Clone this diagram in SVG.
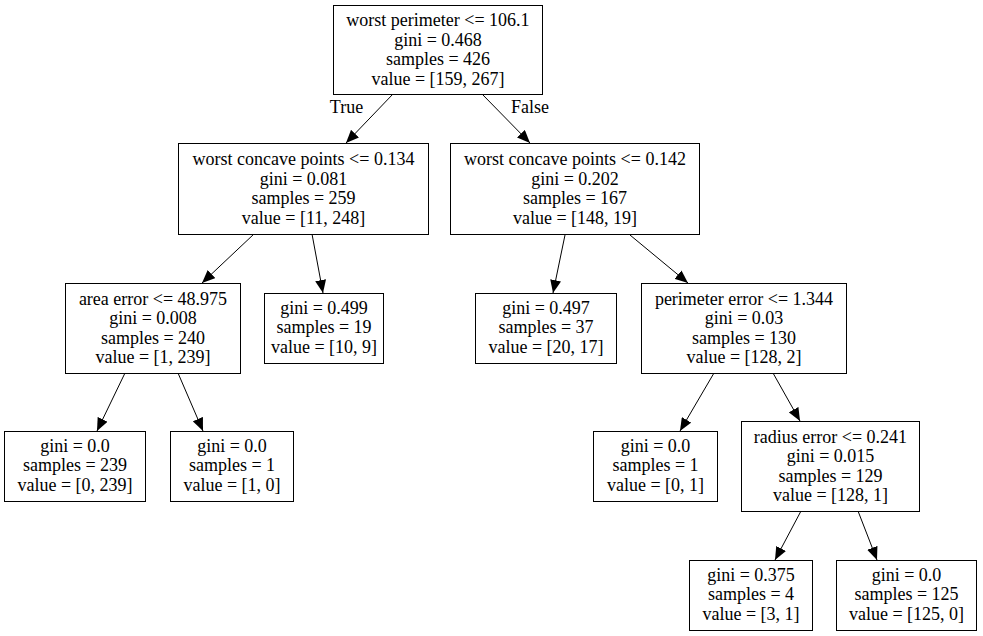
<svg xmlns="http://www.w3.org/2000/svg" width="983" height="636" viewBox="0 0 983 636">
<style>
rect.n{fill:#fff;stroke:#000;stroke-width:1}
text{font-family:"Liberation Serif","Times New Roman",serif;font-size:18px;fill:#000;text-anchor:middle}
.e{stroke:#000;stroke-width:1;fill:none;marker-end:url(#ah)}
</style>
<defs>
<marker id="ah" markerUnits="userSpaceOnUse" markerWidth="14" markerHeight="11" refX="13" refY="5.5" orient="auto">
<path d="M0,0 L13,5.5 L0,11 Z" fill="#000"/>
</marker>
</defs>
<rect width="983" height="636" fill="#fff"/>
<g id="edges">
<path class="e" d="M393,94 L346,143"/>
<path class="e" d="M482,94 L530,143"/>
<path class="e" d="M254,234 L202,283"/>
<path class="e" d="M312,234 L323,293"/>
<path class="e" d="M565,235 L553,293"/>
<path class="e" d="M630,235 L688,283"/>
<path class="e" d="M125,373 L97,431"/>
<path class="e" d="M178,373 L203,431"/>
<path class="e" d="M714,373 L680,431"/>
<path class="e" d="M773,373 L800,421"/>
<path class="e" d="M801,511 L775,560"/>
<path class="e" d="M858,511 L877,560"/>
<text x="346.5" y="113">True</text>
<text x="530" y="113">False</text>
</g>
<g id="n0">
<rect class="n" x="333.5" y="5.5" width="209" height="89"/>
<text x="438" y="26">worst perimeter &lt;= 106.1</text>
<text x="438" y="45.5">gini = 0.468</text>
<text x="438" y="65">samples = 426</text>
<text x="438" y="84.5">value = [159, 267]</text>
</g>
<g id="n1">
<rect class="n" x="178.5" y="143.5" width="250" height="91"/>
<text x="303.5" y="165">worst concave points &lt;= 0.134</text>
<text x="303.5" y="184.5">gini = 0.081</text>
<text x="303.5" y="204">samples = 259</text>
<text x="303.5" y="223.5">value = [11, 248]</text>
</g>
<g id="n2">
<rect class="n" x="450.5" y="143.5" width="249" height="91"/>
<text x="575" y="165">worst concave points &lt;= 0.142</text>
<text x="575" y="184.5">gini = 0.202</text>
<text x="575" y="204">samples = 167</text>
<text x="575" y="223.5">value = [148, 19]</text>
</g>
<g id="n3">
<rect class="n" x="65.5" y="283.5" width="175" height="90"/>
<text x="153" y="304.5">area error &lt;= 48.975</text>
<text x="153" y="324">gini = 0.008</text>
<text x="153" y="343.5">samples = 240</text>
<text x="153" y="363">value = [1, 239]</text>
</g>
<g id="n4">
<rect class="n" x="264.5" y="293.5" width="119" height="70"/>
<text x="324" y="313.5">gini = 0.499</text>
<text x="324" y="333">samples = 19</text>
<text x="324" y="352.5">value = [10, 9]</text>
</g>
<g id="n5">
<rect class="n" x="475.5" y="293.5" width="141" height="70"/>
<text x="546" y="313.5">gini = 0.497</text>
<text x="546" y="333">samples = 37</text>
<text x="546" y="352.5">value = [20, 17]</text>
</g>
<g id="n6">
<rect class="n" x="641.5" y="283.5" width="205" height="90"/>
<text x="744" y="304.5">perimeter error &lt;= 1.344</text>
<text x="744" y="324">gini = 0.03</text>
<text x="744" y="343.5">samples = 130</text>
<text x="744" y="363">value = [128, 2]</text>
</g>
<g id="n7">
<rect class="n" x="4.5" y="431.5" width="141" height="70"/>
<text x="75" y="451.5">gini = 0.0</text>
<text x="75" y="471">samples = 239</text>
<text x="75" y="490.5">value = [0, 239]</text>
</g>
<g id="n8">
<rect class="n" x="170.5" y="431.5" width="123" height="70"/>
<text x="232" y="451.5">gini = 0.0</text>
<text x="232" y="471">samples = 1</text>
<text x="232" y="490.5">value = [1, 0]</text>
</g>
<g id="n9">
<rect class="n" x="593.5" y="431.5" width="124" height="70"/>
<text x="655.5" y="451.5">gini = 0.0</text>
<text x="655.5" y="471">samples = 1</text>
<text x="655.5" y="490.5">value = [0, 1]</text>
</g>
<g id="n10">
<rect class="n" x="741.5" y="421.5" width="178" height="90"/>
<text x="830.5" y="442.5">radius error &lt;= 0.241</text>
<text x="830.5" y="462">gini = 0.015</text>
<text x="830.5" y="481.5">samples = 129</text>
<text x="830.5" y="501">value = [128, 1]</text>
</g>
<g id="n11">
<rect class="n" x="689.5" y="560.5" width="123" height="70"/>
<text x="751" y="580.5">gini = 0.375</text>
<text x="751" y="600">samples = 4</text>
<text x="751" y="619.5">value = [3, 1]</text>
</g>
<g id="n12">
<rect class="n" x="836.5" y="560.5" width="140" height="70"/>
<text x="906.5" y="580.5">gini = 0.0</text>
<text x="906.5" y="600">samples = 125</text>
<text x="906.5" y="619.5">value = [125, 0]</text>
</g>
</svg>
